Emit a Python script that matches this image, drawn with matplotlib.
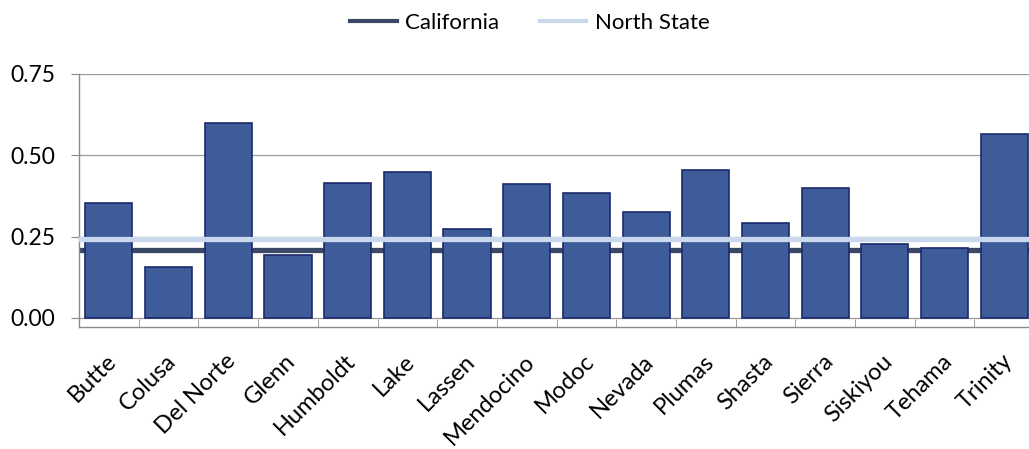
import matplotlib.pyplot as plt
import matplotlib.transforms as mtransforms
import numpy as np

plt.rcParams['font.family'] = ['Lato', 'DejaVu Sans']

counties = ['Butte', 'Colusa', 'Del Norte', 'Glenn', 'Humboldt', 'Lake', 'Lassen',
            'Mendocino', 'Modoc', 'Nevada', 'Plumas', 'Shasta', 'Sierra',
            'Siskiyou', 'Tehama', 'Trinity']
county_rates = [0.353, 0.155, 0.600, 0.194, 0.415, 0.448, 0.274, 0.412,
                0.385, 0.325, 0.455, 0.293, 0.400, 0.227, 0.214, 0.567]
california_rate = 0.208
north_state_rate = 0.242

bar_color = '#3D5C99'
edge_color = '#1C2A6B'

fig = plt.figure(figsize=[10.29, 4.49], dpi=100)
ax = fig.add_axes([0.0768, 0.2717, 0.9282, 0.5635])

x = np.arange(len(counties))
ax.bar(x, county_rates, width=0.79, color=bar_color, edgecolor=edge_color,
       linewidth=1.2, zorder=2)
ax.axhline(california_rate, color='#3A4766', linewidth=3.8, zorder=1,
           label='California')
ax.axhline(north_state_rate, color='#C9D8EC', linewidth=3.8, zorder=3,
           label='North State')

ax.set_xlim(-0.5, len(counties) - 0.5)
ax.set_ylim(-0.028, 0.75)
ax.set_yticks([0.0, 0.25, 0.5, 0.75])
ax.set_yticklabels(['0.00', '0.25', '0.50', '0.75'], fontsize=16.5)
ax.grid(axis='y', color='#9A9A9A', linewidth=0.9, zorder=0)

ax.set_xticks(x)
ax.set_xticklabels(counties, rotation=45, ha='right', rotation_mode='anchor',
                   fontsize=17)
ax.tick_params(axis='x', length=0, pad=17)
# nudge the slanted names a little to the left
shift = mtransforms.ScaledTranslation(-3 / 100, 0, fig.dpi_scale_trans)
for lbl in ax.get_xticklabels():
    lbl.set_transform(lbl.get_transform() + shift)
ax.set_xticks(np.arange(len(counties) + 1) - 0.5, minor=True)
ax.tick_params(axis='x', which='minor', direction='in', length=6,
               color='#8A8A8A')
ax.tick_params(axis='y', length=6, color='#8A8A8A', pad=11)

for side in ['top', 'right']:
    ax.spines[side].set_visible(False)
for side in ['left', 'bottom']:
    ax.spines[side].set_color('#8A8A8A')
    ax.spines[side].set_linewidth(1.0)

leg = fig.legend(loc='upper center', bbox_to_anchor=(0.515, 1.015), ncol=2,
                 frameon=False, fontsize=16, handlelength=2.1, handletextpad=0.4,
                 columnspacing=1.8)
for line in leg.get_lines():
    line.set_linewidth(3)

plt.savefig('out.png', dpi=100)
